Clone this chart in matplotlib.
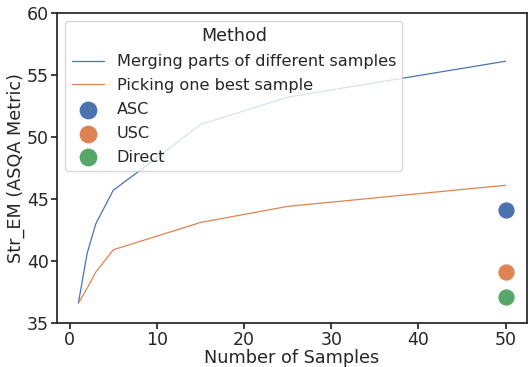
import matplotlib
matplotlib.use("Agg")
import matplotlib.pyplot as plt
import seaborn as sns

sns.set_theme(style="ticks")

samples = [1, 2, 3, 5, 10, 15, 25, 50]
merging = [36.6, 40.6, 43.0, 45.7, 48.3, 51.0, 53.2, 56.1]
picking = [36.6, 37.8, 39.1, 40.9, 42.0, 43.1, 44.4, 46.1]

point_x = 50
point_labels = ["ASC", "USC", "Direct"]
point_values = [44.1, 39.1, 37.1]

pal = sns.color_palette("deep")

fig = plt.figure(figsize=(5.28, 3.67), dpi=100)
ax = fig.add_axes([0.108, 0.12, 0.89, 0.845])

ax.plot(samples, merging, color=pal[0], lw=0.9, label="Merging parts of different samples")
ax.plot(samples, picking, color=pal[1], lw=0.9, label="Picking one best sample")
for i, (lab, val) in enumerate(zip(point_labels, point_values)):
    ax.scatter([point_x], [val], color=pal[i], s=115, label=lab, zorder=3)

ax.set_ylim(35, 60)
ax.set_yticks([35, 40, 45, 50, 55, 60])
ax.set_xticks([0, 10, 20, 30, 40, 50])
ax.tick_params(labelsize=12.5, pad=1.5, length=4.5)
ax.set_xlabel("Number of Samples", fontsize=12.7, labelpad=0)
ax.set_ylabel("Str_EM (ASQA Metric)", fontsize=12.7, labelpad=1)

leg = ax.legend(title="Method", loc="upper left", fontsize=11.6, title_fontsize=12.6,
                markerscale=1.1, handlelength=2.0, borderaxespad=0.5,
                labelspacing=0.55)

fig.savefig("out.png", dpi=100)
